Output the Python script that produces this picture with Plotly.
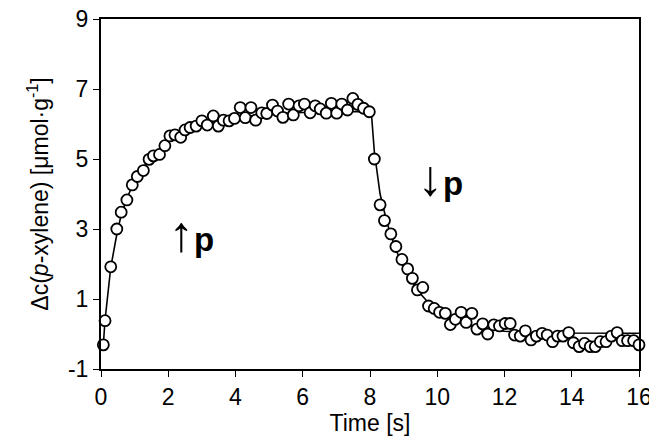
import plotly.graph_objects as go

# measured points
time_s = [0.07, 0.12, 0.29, 0.47, 0.60, 0.77, 0.93, 1.08, 1.26, 1.43, 1.56, 1.74, 1.90, 2.05, 2.20,
          2.37, 2.50, 2.65, 2.83, 3.00, 3.16, 3.34, 3.49, 3.64, 3.81, 3.97, 4.14, 4.29, 4.46, 4.60,
          4.78, 4.93, 5.10, 5.25, 5.41, 5.58, 5.72, 5.89, 6.05, 6.22, 6.37, 6.52, 6.70, 6.85, 7.01,
          7.16, 7.33, 7.49, 7.64, 7.81, 7.98, 8.13, 8.30, 8.43, 8.62, 8.77, 8.95, 9.12, 9.26, 9.41,
          9.57, 9.74, 9.91, 10.07, 10.24, 10.39, 10.54, 10.71, 10.86, 11.03, 11.18, 11.35, 11.50,
          11.68, 11.85, 12.02, 12.17, 12.30, 12.47, 12.62, 12.79, 12.95, 13.12, 13.27, 13.43, 13.58,
          13.74, 13.91, 14.05, 14.22, 14.38, 14.55, 14.70, 14.85, 15.02, 15.18, 15.35, 15.50, 15.66,
          15.84, 16.00]
dc_meas = [-0.31, 0.38, 1.92, 3.00, 3.48, 3.83, 4.26, 4.50, 4.67, 4.99, 5.09, 5.13, 5.38, 5.66, 5.69,
           5.62, 5.83, 5.90, 5.94, 6.09, 5.97, 6.23, 5.94, 6.11, 6.09, 6.16, 6.47, 6.18, 6.47, 6.11,
           6.32, 6.30, 6.54, 6.37, 6.19, 6.57, 6.26, 6.52, 6.57, 6.32, 6.52, 6.43, 6.31, 6.59, 6.31,
           6.57, 6.40, 6.73, 6.56, 6.45, 6.35, 5.00, 3.69, 3.24, 2.86, 2.50, 2.13, 1.86, 1.59, 1.26,
           1.33, 0.80, 0.73, 0.62, 0.59, 0.27, 0.42, 0.62, 0.33, 0.59, 0.14, 0.29, 0.00,
           0.26, 0.23, 0.30, 0.30, -0.03, -0.06, 0.09, -0.17, -0.06, 0.02, -0.03, -0.22, -0.06,
           -0.06, 0.04, -0.25, -0.36, -0.27, -0.36, -0.36, -0.22, -0.22, -0.06, 0.04, -0.19, -0.19,
           -0.19, -0.31]

# model curve
fit_t = [0.07, 0.12, 0.29, 0.47, 0.60, 0.80, 1.00, 1.25, 1.50, 1.75, 2.00, 2.50, 3.00, 3.50, 4.00,
         4.50, 5.00, 6.00, 7.00, 7.98, 8.05, 8.13, 8.30, 8.50, 8.75, 9.00, 9.25, 9.50, 9.75, 10.00,
         10.50, 11.00, 11.50, 12.00, 13.00, 14.00, 16.00]
fit_dc = [-0.30, 0.40, 1.90, 2.85, 3.40, 3.95, 4.35, 4.75, 5.05, 5.30, 5.50, 5.78, 5.97, 6.10, 6.19,
          6.25, 6.29, 6.33, 6.35, 6.36, 6.20, 5.20, 4.00, 3.20, 2.45, 1.90, 1.50, 1.15, 0.88, 0.68,
          0.40, 0.24, 0.14, 0.08, 0.03, 0.02, 0.02]

x_ticks = [0, 2, 4, 6, 8, 10, 12, 14, 16]
y_ticks = [-1, 1, 3, 5, 7, 9]
y_ticktext = ["-1", "1", "3", "5", "7", "9"]

font = "Liberation Sans, Arial, sans-serif"

fig = go.Figure()
fig.add_trace(go.Scatter(x=fit_t, y=fit_dc, mode="lines",
                         line=dict(color="black", width=1.6), showlegend=False))
fig.add_trace(go.Scatter(x=time_s, y=dc_meas, mode="markers", cliponaxis=False,
                         marker=dict(symbol="circle", size=11, color="white",
                                     line=dict(color="black", width=1.8)),
                         showlegend=False))

fig.add_annotation(x=2.69, y=2.86, text="<span style='font-size:50px'>↑</span><b>p</b>",
                   showarrow=False, font=dict(family=font, size=33, color="black"))
fig.add_annotation(x=10.11, y=4.46, text="<span style='font-size:50px'>↓</span><b>p</b>",
                   showarrow=False, font=dict(family=font, size=33, color="black"))

fig.update_xaxes(range=[0, 16], tickvals=x_ticks, automargin=False, ticklabeloverflow="allow",
                 showline=True, linecolor="black", linewidth=2, mirror=True,
                 ticks="outside", ticklen=6, tickcolor="black", tickwidth=1,
                 showgrid=False, zeroline=False,
                 title=dict(text="Time [s]", font=dict(family=font, size=23, color="black"), standoff=2),
                 tickfont=dict(family=font, size=23, color="black"))
fig.update_yaxes(range=[-1, 9], tickvals=y_ticks, ticktext=y_ticktext, automargin=False,
                 ticklabeloverflow="allow",
                 showline=True, linecolor="black", linewidth=2, mirror=True,
                 ticks="outside", ticklen=6, tickcolor="black", tickwidth=1,
                 showgrid=False, zeroline=False,
                 title=dict(text="Δc(<i>p</i>-xylene) [μmol·g<sup>-1</sup>]",
                            font=dict(family=font, size=23, color="black"), standoff=13),
                 tickfont=dict(family=font, size=23, color="black"))

# page body has an 8px margin, so the figure is a bit smaller and margins shifted
fig.update_layout(width=649, height=438, plot_bgcolor="white", paper_bgcolor="white",
                  margin=dict(l=93, r=18, t=11, b=77))

fig.write_html("out.html")
